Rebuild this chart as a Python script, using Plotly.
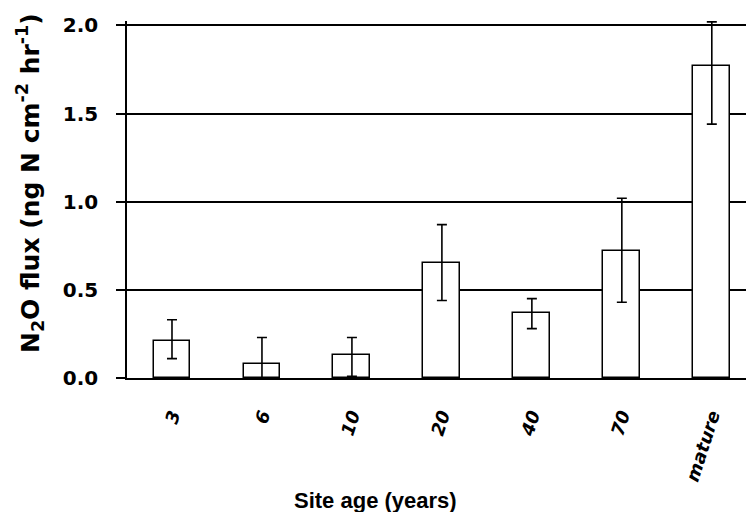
import plotly.graph_objects as go

categories = ["3", "6", "10", "20", "40", "70", "mature"]
flux = [0.21, 0.08, 0.13, 0.65, 0.37, 0.72, 1.77]
err_plus = [0.12, 0.15, 0.10, 0.22, 0.08, 0.30, 0.25]
err_minus = [0.10, 0.09, 0.12, 0.21, 0.09, 0.29, 0.33]
y_ticks = [0.0, 0.5, 1.0, 1.5, 2.0]
y_tick_labels = ["0.0", "0.5", "1.0", "1.5", "2.0"]

W, H = 746, 512
L, R, T, B = 127, 0, 21, 134
YMAX = 2.025

fig = go.Figure()
fig.add_trace(go.Bar(
    x=list(range(len(categories))), y=flux, width=0.41,
    marker=dict(color="white", line=dict(color="black", width=1.5)),
    error_y=dict(type="data", symmetric=False, array=err_plus, arrayminus=err_minus,
                 color="black", thickness=1.6, width=5),
    showlegend=False, hoverinfo="skip",
))

fig.update_layout(
    width=W, height=H,
    margin=dict(l=L, r=R, t=T, b=B, pad=0),
    paper_bgcolor="white", plot_bgcolor="white",
    font=dict(family="Liberation Sans, Arial", color="black"),
    bargap=0,
)
fig.update_xaxes(
    range=[-0.5, 6.38],
    tickmode="array", tickvals=list(range(len(categories))),
    ticktext=[f"<b><i>{c}</i></b>" for c in categories],
    tickangle=-72, tickfont=dict(size=18, family="DejaVu Sans"),
    ticks="", ticklabelstandoff=18,
    showgrid=False, showline=True, linecolor="black", linewidth=1.5,
    zeroline=False,
)
fig.update_yaxes(
    range=[0, YMAX],
    tickmode="array", tickvals=y_ticks, ticktext=[f"<b>{t}</b>" for t in y_tick_labels],
    tickfont=dict(size=20, family="DejaVu Sans"),
    ticks="outside", ticklen=9, tickcolor="black", tickwidth=1.5,
    ticklabelstandoff=14,
    showgrid=True, gridcolor="black", gridwidth=1.5,
    showline=True, linecolor="black", linewidth=1.5,
    zeroline=False,
)

pw = W - L - R
ph = H - T - B
fig.add_annotation(
    text="<b>N<sub>2</sub>O flux (ng N cm<sup>-2</sup> hr<sup>-1</sup>)</b>",
    xref="paper", yref="paper", x=(30 - L) / pw, y=(H - B - 183) / ph,
    textangle=-90, showarrow=False, font=dict(size=25, family="DejaVu Sans"),
    xanchor="center", yanchor="middle",
)
fig.add_annotation(
    text="<b>Site age (years)</b>",
    xref="paper", yref="paper", x=(375 - L) / pw, y=-(500 - (H - B)) / ph,
    showarrow=False, font=dict(size=22, family="Liberation Sans"),
    xanchor="center", yanchor="middle",
)

fig.write_html("out.html", config={"displayModeBar": False},
               post_script="document.body.style.margin='0';")
